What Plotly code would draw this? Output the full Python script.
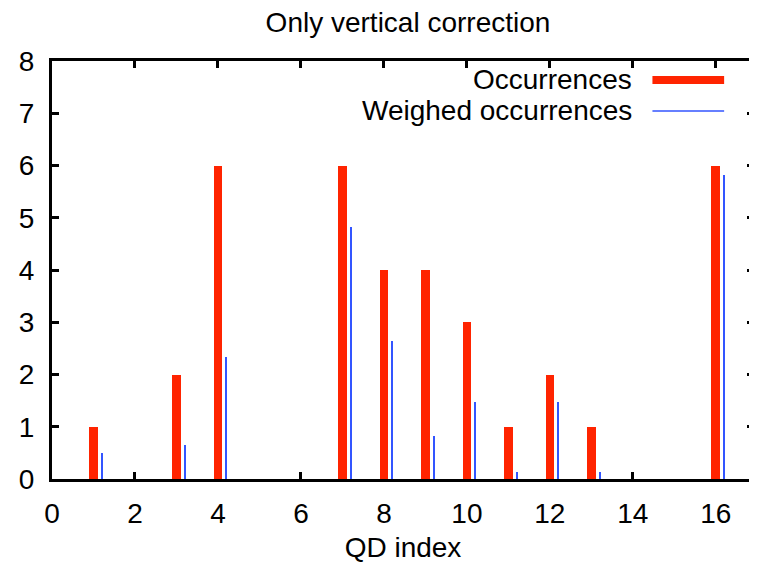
import plotly.graph_objects as go

qd_index = [1, 3, 4, 7, 8, 9, 10, 11, 12, 13, 16]
occurrences = [1, 2, 6, 6, 4, 4, 3, 1, 2, 1, 6]
weighed = [0.49, 0.65, 2.33, 4.82, 2.64, 0.82, 1.48, 0.14, 1.48, 0.14, 5.81]
x_ticks = [0, 2, 4, 6, 8, 10, 12, 14, 16]
y_ticks = [0, 1, 2, 3, 4, 5, 6, 7, 8]

RED = "#ff2400"
BLUE = "#3355ff"
FONT = "Liberation Sans, Arial, sans-serif"
FS = 28

# page body has an 8px margin; compensate so the plot lands where the reference has it
OFF = 8
L, R, T, B = 52 - OFF, 0, 61 - OFF, 84
W, H = 757 - OFF, 563 - OFF
pw = W - L - R
ph = H - T - B

def px_x(p):
    return (p - OFF - L) / pw

def px_y(p):
    return (H - B - (p - OFF)) / ph

fig = go.Figure()
fig.add_trace(go.Bar(x=qd_index, y=occurrences, width=0.21, offset=-0.105,
                     marker=dict(color=RED, line=dict(width=0)),
                     name="Occurrences", showlegend=False))
fig.add_trace(go.Bar(x=qd_index, y=weighed, width=0.05, offset=0.175,
                     marker=dict(color=BLUE, line=dict(width=0)),
                     name="Weighed occurrences", showlegend=False))

annotations = [
    dict(text="Occurrences", x=px_x(636), y=px_y(80), xref="paper", yref="paper",
         xanchor="right", yanchor="middle", showarrow=False,
         font=dict(family=FONT, size=FS, color="black")),
    dict(text="Weighed occurrences", x=px_x(636), y=px_y(111), xref="paper", yref="paper",
         xanchor="right", yanchor="middle", showarrow=False,
         font=dict(family=FONT, size=FS, color="black")),
]
shapes = [
    dict(type="line", xref="paper", yref="paper", x0=px_x(655), x1=px_x(727),
         y0=px_y(80), y1=px_y(80), line=dict(color=RED, width=8)),
    dict(type="line", xref="paper", yref="paper", x0=px_x(655), x1=px_x(727),
         y0=px_y(111), y1=px_y(111), line=dict(color=BLUE, width=1.5)),
]

fig.update_layout(
    width=W, height=H,
    margin=dict(l=L, r=R, t=T, b=B, pad=0),
    paper_bgcolor="white", plot_bgcolor="white",
    barmode="overlay", bargap=0,
    font=dict(family=FONT, size=FS, color="black"),
    title=dict(text="Only vertical correction", x=(408 - OFF) / W, xanchor="center",
               y=1 - (22 - OFF) / H, yanchor="middle",
               font=dict(family=FONT, size=FS, color="black")),
    annotations=annotations, shapes=shapes,
    xaxis=dict(range=[0, 16.92], tickvals=x_ticks, ticktext=[str(v) for v in x_ticks],
               ticks="inside", ticklen=7, tickwidth=2.5, tickcolor="black",
               showline=True, linecolor="black", linewidth=3, mirror="ticks",
               showgrid=False, zeroline=False, ticklabelstandoff=7,
               layer="below traces",
               tickfont=dict(family=FONT, size=FS),
               title=dict(text="QD index", standoff=12, font=dict(family=FONT, size=FS))),
    yaxis=dict(range=[0, 8], tickvals=y_ticks, ticktext=[str(v) for v in y_ticks],
               ticks="inside", ticklen=7, tickwidth=2.5, tickcolor="black",
               showline=True, linecolor="black", linewidth=3, mirror="ticks",
               showgrid=False, zeroline=False, ticklabelstandoff=9,
               layer="below traces",
               tickfont=dict(family=FONT, size=FS)),
)

fig.write_html("out.html")
